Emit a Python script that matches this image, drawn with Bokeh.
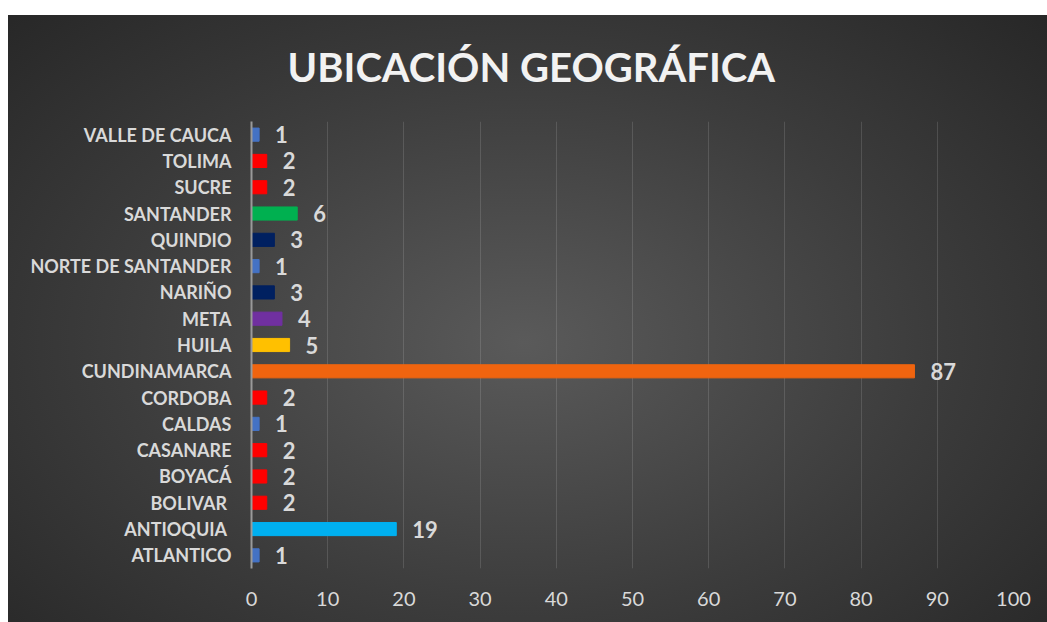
from bokeh.plotting import figure
from bokeh.models import ColumnDataSource, LabelSet, FixedTicker
from bokeh.core.properties import value
from bokeh.transform import dodge
from bokeh.embed import file_html
from bokeh.resources import INLINE

title_text = "UBICACIÓN GEOGRÁFICA"
categories = ["ATLANTICO", "ANTIOQUIA ", "BOLIVAR ", "BOYACÁ", "CASANARE", "CALDAS",
              "CORDOBA", "CUNDINAMARCA", "HUILA", "META", "NARIÑO",
              "NORTE DE SANTANDER", "QUINDIO", "SANTANDER", "SUCRE", "TOLIMA",
              "VALLE DE CAUCA"]
values = [1, 19, 2, 2, 2, 1, 2, 87, 5, 4, 3, 1, 3, 6, 2, 2, 1]
colors = ["#4472c4", "#00b0f0", "#ff0000", "#ff0000", "#ff0000", "#4472c4",
          "#ff0000", "#f0640f", "#ffc000", "#7030a0", "#002060",
          "#4472c4", "#002060", "#00b050", "#ff0000", "#ff0000", "#4472c4"]
x_ticks = [0, 10, 20, 30, 40, 50, 60, 70, 80, 90, 100]

src = ColumnDataSource(dict(cat=categories, val=values, col=colors,
                            lab=[str(v) for v in values]))

p = figure(width=1047, height=622, y_range=categories, x_range=(0, 100),
           output_backend="svg", toolbar_location=None,
           min_border_left=251, min_border_right=34, min_border_top=121,
           min_border_bottom=54)
p.styles = {"background": "linear-gradient(to right, #ffffff 0px, #ffffff 8px, transparent 8px), "
                          "linear-gradient(to bottom, #ffffff 0px, #ffffff 15px, transparent 15px), "
                          "radial-gradient(ellipse at 50% 55%, #5a5a5a 0%, #3c3c3c 55%, #262626 100%)"}
p.background_fill_alpha = 0
p.border_fill_alpha = 0
p.outline_line_color = None

p.title.text = title_text
p.title.align = "left"
p.title.text_font = "Lato"
p.title.text_font_style = "bold"
p.title.text_font_size = "40px"
p.title.text_color = "#f2f2f2"
p.title.offset = 36
p.title.standoff = 62

# shadow
p.hbar(y=dodge("cat", -0.08, range=p.y_range), left=0, right=dodge("val", 0.35, range=p.x_range),
       height=0.5, color="black", alpha=0.35)
p.hbar(y="cat", left=0, right="val", height=0.5, color="col", source=src)

labels = LabelSet(x="val", y="cat", text="lab", source=src, x_offset=16,
                  text_baseline="middle", text_align="left", text_font=value("Lato"),
                  text_font_style="bold", text_font_size="22px", text_color="#d9d9d9")
p.add_layout(labels)

p.xaxis.ticker = FixedTicker(ticks=x_ticks)
p.xaxis.axis_line_color = None
p.xaxis.major_tick_line_color = None
p.xaxis.minor_tick_line_color = None
p.xaxis.major_label_text_font = "Lato"
p.xaxis.major_label_text_font_size = "20px"
p.xaxis.major_label_text_color = "#d9d9d9"
p.xaxis.major_label_standoff = 17

p.yaxis.axis_line_color = "#9a9a9a"
p.yaxis.axis_line_width = 2
p.yaxis.major_tick_line_color = None
p.yaxis.minor_tick_line_color = None
p.yaxis.major_label_text_font = "Lato"
p.yaxis.major_label_text_font_style = "bold"
p.yaxis.major_label_text_font_size = "18px"
p.yaxis.major_label_text_color = "#d9d9d9"
p.yaxis.major_label_standoff = 14

p.xgrid.grid_line_color = "white"
p.xgrid.grid_line_alpha = 0.13
p.ygrid.grid_line_color = None

open("out.html", "w").write(file_html(p, INLINE))
